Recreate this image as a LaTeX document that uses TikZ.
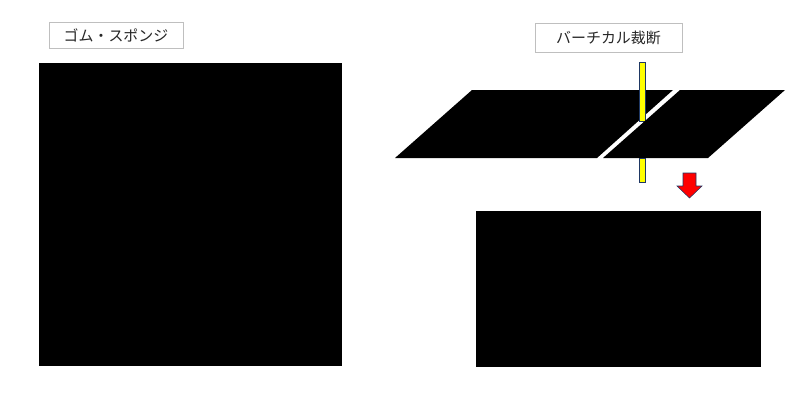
\documentclass[tikz,border=0pt]{standalone}
\usepackage{fontspec}
\newfontfamily\jpfont{Noto Sans CJK JP}

\tikzset{every picture/.style={line width=0.75pt}}
\tikzset{
  labelbox/.style={draw={rgb, 255:red, 191; green, 191; blue, 191 },fill=white,inner sep=0pt,font=\jpfont\fontsize{11.2}{13}\selectfont,text={rgb, 255:red, 38; green, 38; blue, 38 }},
  bladebar/.style={draw={rgb, 255:red, 31; green, 56; blue, 100 },fill={rgb, 255:red, 255; green, 255; blue, 0 },line width=0.6},
}

\begin{document}
\begin{tikzpicture}[x=0.75pt,y=0.75pt,yscale=-1,xscale=1]
\useasboundingbox (0,0) rectangle (807,404);

%Shape: Square [id:sponge]
\fill [color=black] (39,63) -- (342,63) -- (342,366) -- (39,366) -- cycle ;
%Shape: Parallelogram [id:sheetleft]
\fill [color=black] (395,158) -- (472,90) -- (673,90) -- (597,158) -- cycle ;
%Shape: Rectangle [id:bladetop]
\draw [bladebar] (639,62) -- (645,62) -- (645,121) -- (639,121) -- cycle ;
%Shape: Parallelogram [id:sheetright]
\fill [color=black] (603,158) -- (680,90) -- (785,90) -- (708,158) -- cycle ;
%Shape: Rectangle [id:bladebottom]
\draw [bladebar] (639,158) -- (645,158) -- (645,182) -- (639,182) -- cycle ;
%Shape: Down Arrow [id:arrowdown]
\draw [draw={rgb, 255:red, 31; green, 56; blue, 100 },fill={rgb, 255:red, 255; green, 0; blue, 0 },line width=0.4] (683,173) -- (696,173) -- (696,186) -- (702,186) -- (689.5,198) -- (677,186) -- (683,186) -- cycle ;
%Shape: Rectangle [id:cutpiece]
\fill [color=black] (476,211) -- (761,211) -- (761,367) -- (476,367) -- cycle ;

% Text Node
\node [labelbox,minimum width=100.5pt,minimum height=19.5pt] (rubbersponge) at (116,35) {ゴム・スポンジ};
% Text Node
\node [labelbox,minimum width=110.25pt,minimum height=21.75pt] (verticalcut) at (608.5,37.5) {バーチカル裁断};

\end{tikzpicture}
\end{document}
